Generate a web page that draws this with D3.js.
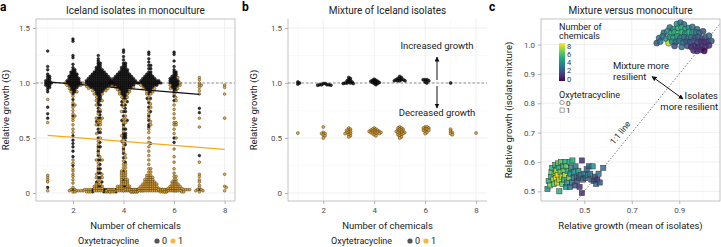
<!DOCTYPE html>
<html>
<head>
<meta charset="utf-8">
<script src="https://cdn.jsdelivr.net/npm/d3@7"></script>
<style>
body { margin: 0; background: #fff; }
text { font-family: Roboto, "Liberation Sans", sans-serif; }
</style>
</head>
<body>
<script>
// ---- data ----
// panel a: [relative growth, number of isolates at that value], keyed by number of chemicals
const monoOxy0 = {
  1: [[1.29,1],[1.15,1],[1.12,1],[1.08,1],[1.06,2],[1.04,2],[1.02,3],[1.0,4],[0.98,3],[0.96,2],[0.94,1],[0.92,1],[0.78,1],[0.72,1],[0.68,1],[0.05,1]],
  2: [[1.40,1],[1.38,1],[1.25,1],[1.23,1],[1.17,1],[1.14,1],[1.12,2],[1.1,3],[1.08,4],[1.06,5],[1.04,6],[1.02,7],[1.0,8],[0.98,6],[0.96,4],[0.94,3],[0.92,2],[0.9,1],[0.85,1],[0.8,1],[0.7,1],[0.52,1],[0.48,1],[0.45,1],[0.42,1],[0.38,1],[0.33,1],[0.25,1],[0.03,1]],
  3: [[1.25,1],[1.22,1],[1.2,1],[1.18,2],[1.16,2],[1.14,3],[1.12,4],[1.1,6],[1.08,8],[1.06,10],[1.04,12],[1.02,13],[1.0,14],[0.98,12],[0.96,9],[0.94,6],[0.92,4],[0.9,3],[0.88,2],[0.86,2],[0.84,2],[0.82,1],[0.8,2],[0.77,1],[0.74,2],[0.71,1],[0.68,2],[0.65,1],[0.62,1],[0.58,1],[0.55,2],[0.5,1],[0.46,1],[0.42,2],[0.38,1],[0.34,1],[0.3,2],[0.26,1],[0.22,2],[0.18,2],[0.14,2],[0.1,2],[0.06,2],[0.03,3],[0.01,2]],
  4: [[1.3,1],[1.28,1],[1.24,1],[1.21,1],[1.18,2],[1.16,2],[1.14,3],[1.12,4],[1.1,5],[1.08,7],[1.06,9],[1.04,11],[1.02,13],[1.0,14],[0.98,11],[0.96,8],[0.94,5],[0.92,4],[0.9,3],[0.88,2],[0.86,2],[0.83,2],[0.8,2],[0.77,1],[0.74,2],[0.7,1],[0.66,2],[0.62,1],[0.58,2],[0.54,2],[0.52,2],[0.5,2],[0.47,2],[0.44,1],[0.4,1],[0.36,1],[0.32,1],[0.28,1],[0.2,1],[0.12,1],[0.06,2],[0.03,2],[0.01,2]],
  5: [[1.28,1],[1.26,1],[1.22,1],[1.19,1],[1.16,2],[1.13,2],[1.1,2],[1.08,3],[1.06,5],[1.04,7],[1.02,10],[1.0,12],[0.98,8],[0.96,5],[0.94,3],[0.92,2],[0.9,1],[0.86,2],[0.82,1],[0.78,1],[0.74,1],[0.7,1],[0.66,1],[0.62,1],[0.6,1],[0.45,1],[0.03,2]],
  6: [[1.28,1],[1.26,1],[1.2,1],[1.15,1],[1.12,1],[1.1,2],[1.08,2],[1.06,3],[1.04,4],[1.02,5],[1.0,5],[0.98,4],[0.96,3],[0.94,2],[0.92,1],[0.88,1],[0.84,1],[0.5,1],[0.46,1],[0.03,1]],
  7: [[0.77,1],[0.73,1],[0.34,1],[0.03,1]]
}
const monoOxy1 = {
  1: [[0.85,1],[0.64,1],[0.16,1],[0.14,1],[0.12,1],[0.1,1],[0.02,1]],
  2: [[1.0,2],[0.98,2],[0.95,1],[0.92,2],[0.88,1],[0.82,1],[0.8,1],[0.78,1],[0.75,1],[0.72,1],[0.7,1],[0.68,1],[0.66,1],[0.62,1],[0.58,1],[0.55,1],[0.3,1],[0.27,1],[0.22,1],[0.2,1],[0.17,1],[0.15,1],[0.12,1],[0.09,1],[0.05,1],[0.03,2],[0.02,3],[0.01,2]],
  3: [[0.97,2],[0.95,2],[0.93,2],[0.9,2],[0.87,1],[0.84,2],[0.8,1],[0.76,1],[0.72,1],[0.68,2],[0.66,2],[0.64,2],[0.62,2],[0.58,1],[0.54,1],[0.5,1],[0.47,1],[0.44,1],[0.4,1],[0.36,1],[0.33,1],[0.3,2],[0.27,1],[0.24,1],[0.2,1],[0.17,2],[0.14,2],[0.11,2],[0.08,3],[0.06,3],[0.04,5],[0.03,7],[0.02,9],[0.01,6]],
  4: [[0.96,2],[0.94,2],[0.92,2],[0.9,2],[0.87,2],[0.84,2],[0.81,1],[0.78,1],[0.74,1],[0.7,1],[0.67,2],[0.64,2],[0.6,1],[0.56,1],[0.52,1],[0.48,1],[0.45,1],[0.42,1],[0.38,1],[0.35,1],[0.32,1],[0.29,1],[0.26,2],[0.23,2],[0.2,2],[0.18,3],[0.16,3],[0.14,3],[0.12,3],[0.1,4],[0.08,4],[0.06,5],[0.04,7],[0.03,8],[0.02,10],[0.01,6]],
  5: [[0.98,1],[0.95,2],[0.92,2],[0.9,2],[0.87,1],[0.84,1],[0.81,1],[0.78,1],[0.75,1],[0.72,1],[0.68,1],[0.65,1],[0.62,1],[0.58,1],[0.55,1],[0.5,1],[0.46,1],[0.42,1],[0.38,1],[0.34,1],[0.3,1],[0.26,1],[0.22,2],[0.19,2],[0.16,3],[0.14,4],[0.12,5],[0.1,6],[0.08,8],[0.06,9],[0.04,11],[0.03,12],[0.02,14],[0.01,8]],
  6: [[1.05,1],[1.0,1],[0.98,2],[0.95,2],[0.92,1],[0.9,1],[0.87,1],[0.84,1],[0.8,1],[0.76,1],[0.72,1],[0.68,1],[0.64,2],[0.62,2],[0.58,1],[0.54,1],[0.5,1],[0.4,1],[0.33,1],[0.28,1],[0.22,1],[0.18,1],[0.15,2],[0.12,2],[0.1,3],[0.08,4],[0.06,6],[0.04,8],[0.03,8],[0.02,7],[0.01,4]],
  7: [[1.05,1],[1.03,1],[1.0,1],[0.98,2],[0.96,1],[0.93,1],[0.9,1],[0.68,1],[0.6,1],[0.28,1],[0.17,1],[0.15,1],[0.12,1],[0.1,1],[0.07,1],[0.05,1],[0.03,2],[0.02,2],[0.01,1]],
  8: [[0.98,1],[0.96,1],[0.9,1],[0.68,1],[0.17,1],[0.06,1],[0.05,1],[0.02,1]]
}
// fitted lines in panel a: [chemicals, growth] end points
const fitOxy0 = [[1, 1.01], [7, 0.897]]
const fitOxy1 = [[1, 0.524], [8, 0.397]]

// panel b: mixtures
const mixOxy0 = {
  1: [[1.01,1],[1.0,1],[0.99,1]],
  2: [[0.995,2],[0.985,4],[0.98,2]],
  3: [[1.05,1],[1.04,1],[1.03,1],[1.02,2],[1.01,2],[1.0,3],[0.995,2]],
  4: [[1.035,1],[1.025,2],[1.015,3],[1.005,3],[0.995,2],[0.985,1]],
  5: [[1.06,1],[1.05,1],[1.04,2],[1.03,3],[1.02,4]],
  6: [[1.03,3],[1.02,1],[1.01,1],[1.0,1]],
  7: [[1.0,1]]
}
const mixOxy1 = {
  1: [[0.545,1]],
  2: [[0.6,1],[0.55,1],[0.54,2],[0.53,1],[0.52,1],[0.5,1]],
  3: [[0.59,1],[0.58,1],[0.57,2],[0.56,1],[0.55,2],[0.54,2],[0.53,1],[0.52,1],[0.51,1]],
  4: [[0.59,1],[0.58,2],[0.57,3],[0.56,4],[0.55,4],[0.54,3],[0.53,1],[0.52,1]],
  5: [[0.6,1],[0.59,2],[0.58,2],[0.57,2],[0.56,3],[0.55,3],[0.54,2],[0.53,2],[0.52,1],[0.51,1],[0.5,1]],
  6: [[0.6,2],[0.59,2],[0.58,2],[0.57,2],[0.56,1],[0.55,1],[0.54,1]],
  7: [[0.58,1],[0.56,1],[0.55,1],[0.54,1],[0.53,1]],
  8: [[0.545,1]]
}

// panel c: [mean of isolates, isolate mixture, number of chemicals]
const vsOxy0 = [
  [0.89,1.07,4],[0.905,1.075,3],[0.92,1.068,3],
  [0.86,1.058,3],[0.875,1.052,4],[0.895,1.055,5],[0.91,1.058,5],[0.925,1.052,5],[0.94,1.056,4],[0.955,1.06,3],[0.975,1.052,3],
  [0.835,1.04,3],[0.85,1.045,4],[0.865,1.038,5],[0.88,1.042,5],[0.895,1.038,6],[0.91,1.042,5],[0.925,1.038,4],[0.94,1.042,5],[0.955,1.038,4],[0.97,1.042,3],[0.985,1.04,3],[1.0,1.045,2],
  [0.815,1.022,3],[0.83,1.028,3],[0.845,1.02,4],[0.86,1.025,4],[0.875,1.022,5],[0.89,1.028,4],[0.905,1.022,4],[0.92,1.026,3],[0.935,1.02,3],[0.95,1.025,3],[0.965,1.022,2],[0.98,1.026,2],[0.995,1.02,2],[1.01,1.025,2],[1.025,1.03,3],
  [0.805,1.005,2],[0.82,1.01,3],[0.855,1.005,7],[0.87,1.01,4],[0.885,1.008,3],[0.9,1.012,3],[0.915,1.005,3],[0.93,1.01,2],[0.945,1.008,2],[0.96,1.012,2],[0.975,1.005,2],[0.99,1.01,1],[1.005,1.008,1],[1.02,1.01,1],[1.035,1.012,2],
  [0.88,0.995,2],[0.91,0.992,3],[0.935,0.995,2],[0.95,0.992,1],[0.965,0.995,1],[0.98,0.99,1],[0.995,0.995,1],[1.01,0.992,1],[1.025,0.997,1],
  [0.96,0.98,1],[0.975,0.978,1],[0.99,0.982,1],[1.005,0.978,0]
]
const vsOxy1 = [
  [0.345,0.508,4],[0.35,0.535,5],[0.355,0.52,6],[0.36,0.55,5],[0.362,0.565,6],[0.365,0.58,5],[0.37,0.54,7],[0.372,0.525,6],[0.375,0.56,6],[0.378,0.59,5],
  [0.38,0.545,8],[0.382,0.57,7],[0.385,0.53,7],[0.388,0.555,8],[0.39,0.595,6],[0.392,0.58,5],[0.395,0.5,5],[0.395,0.54,7],[0.4,0.565,6],[0.402,0.6,6],
  [0.405,0.55,7],[0.408,0.525,6],[0.41,0.585,5],[0.413,0.57,6],[0.415,0.54,5],[0.418,0.6,5],[0.42,0.555,7],[0.423,0.515,4],[0.425,0.585,6],[0.428,0.53,4],
  [0.43,0.57,5],[0.435,0.545,6],[0.438,0.6,5],[0.44,0.515,3],[0.442,0.56,4],[0.445,0.58,4],[0.448,0.53,3],[0.45,0.605,5],[0.455,0.545,3],[0.458,0.565,4],
  [0.46,0.52,2],[0.463,0.585,3],[0.468,0.55,3],[0.47,0.535,2],[0.475,0.57,4],[0.478,0.545,2],[0.48,0.515,1],[0.485,0.555,3],[0.49,0.494,1],[0.49,0.605,1],
  [0.495,0.54,3],[0.5,0.56,3],[0.505,0.545,2],[0.51,0.575,3],[0.515,0.555,4],[0.52,0.585,2],[0.525,0.56,3],[0.53,0.54,2],[0.535,0.585,4],[0.54,0.535,2],
  [0.545,0.55,2],[0.55,0.525,3],[0.555,0.54,1],[0.56,0.56,3],[0.565,0.53,2],[0.58,0.58,3]
]

const chemTicks = [2, 4, 6, 8]
const growthTicks = [0, 0.5, 1, 1.5]
const cXTicks = [0.5, 0.7, 0.9]
const cYTicks = [0.5, 0.6, 0.7, 0.8, 0.9, 1.0]
const chemLegend = [0, 2, 4, 6, 8]

// ---- setup ----
const W = 721, H = 247
const svg = d3.select('body').append('svg').attr('width', W).attr('height', H)

const ORANGE = '#dfa236', DARK = '#111'
const tickCol = '#4d4d4d', gridMaj = '#ebebeb', gridMin = '#f5f5f5', frameCol = '#b3b3b3'

const panels = {
  a: {x: d3.scaleLinear().domain([0.537, 8.41]).range([36, 235]), y: d3.scaleLinear().domain([-0.073, 1.582]).range([201, 19])},
  b: {x: d3.scaleLinear().domain([0.613, 8.43]).range([288, 487]), y: d3.scaleLinear().domain([-0.073, 1.582]).range([201, 19])},
  c: {x: d3.scaleLinear().domain([0.3177, 1.0714]).range([541, 720]), y: d3.scaleLinear().domain([0.467, 1.087]).range([201, 19])}
}

function grid(p, xt, yt, xminor, yminor) {
  const g = svg.append('g')
  const [x0, x1] = p.x.range(), [y0, y1] = p.y.range()
  g.selectAll('.vmin').data(xminor).join('line')
    .attr('x1', d => p.x(d)).attr('x2', d => p.x(d)).attr('y1', y0).attr('y2', y1)
    .attr('stroke', gridMin).attr('stroke-width', 0.5)
  g.selectAll('.hmin').data(yminor).join('line')
    .attr('y1', d => p.y(d)).attr('y2', d => p.y(d)).attr('x1', x0).attr('x2', x1)
    .attr('stroke', gridMin).attr('stroke-width', 0.5)
  g.selectAll('.vmaj').data(xt).join('line')
    .attr('x1', d => p.x(d)).attr('x2', d => p.x(d)).attr('y1', y0).attr('y2', y1)
    .attr('stroke', gridMaj).attr('stroke-width', 0.8)
  g.selectAll('.hmaj').data(yt).join('line')
    .attr('y1', d => p.y(d)).attr('y2', d => p.y(d)).attr('x1', x0).attr('x2', x1)
    .attr('stroke', gridMaj).attr('stroke-width', 0.8)
}

function axes(p, xt, yt, xfmt, yfmt, box) {
  const [x0, x1] = p.x.range(), [y0, y1] = p.y.range()
  const gx = svg.append('g').attr('transform', `translate(0,${y0})`)
    .call(d3.axisBottom(p.x).tickValues(xt).tickFormat(xfmt).tickSize(3).tickPadding(3))
  const gy = svg.append('g').attr('transform', `translate(${x0},0)`)
    .call(d3.axisLeft(p.y).tickValues(yt).tickFormat(yfmt).tickSize(3).tickPadding(3))
  for (const g of [gx, gy]) {
    g.select('.domain').remove()
    g.selectAll('line').attr('stroke', frameCol)
    g.selectAll('text').attr('fill', tickCol).style('font-size', '8px')
  }
  if (box) {
    svg.append('rect').attr('x', x0).attr('y', y1).attr('width', x1 - x0).attr('height', y0 - y1)
      .attr('fill', 'none').attr('stroke', frameCol).attr('stroke-width', 0.8)
  } else {
    svg.append('path').attr('d', `M${x0},${y1}V${y0}H${x1}`).attr('fill', 'none')
      .attr('stroke', frameCol).attr('stroke-width', 0.8)
  }
}

// simple beeswarm: place each point as close to the centre as it can go
function swarm(pts, D) {
  pts.sort((a, b) => a.py - b.py)
  const placed = []
  for (const p of pts) {
    const near = placed.filter(q => Math.abs(q.py - p.py) < D)
    const cands = [0]
    for (const q of near) {
      const w = Math.sqrt(D * D - (q.py - p.py) ** 2)
      cands.push(q.dx + w, q.dx - w)
    }
    cands.sort((a, b) => Math.abs(a) - Math.abs(b))
    for (const c of cands) {
      if (near.every(q => (q.dx - c) ** 2 + (q.py - p.py) ** 2 >= D * D - 1e-6)) { p.dx = c; break }
    }
    placed.push(p)
  }
  return pts
}

function expand(groups, oxy, y) {
  const out = []
  for (const k of Object.keys(groups)) {
    for (const [v, n] of groups[k]) {
      for (let i = 0; i < n; i++) out.push({chem: +k, v, oxy, py: y(v)})
    }
  }
  return out
}

function swarmPanel(p, g0, g1, r, D) {
  const all = expand(g0, 0, p.y).concat(expand(g1, 1, p.y))
  const pts = []
  for (const k of d3.range(1, 9)) {
    pts.push(...swarm(all.filter(d => d.chem === k), D))
  }
  svg.append('g').selectAll('circle').data(pts.sort((a, b) => a.oxy - b.oxy)).join('circle')
    .attr('cx', d => p.x(d.chem) + d.dx).attr('cy', d => d.py).attr('r', r)
    .attr('fill', d => d.oxy ? ORANGE : DARK)
    .attr('fill-opacity', d => d.oxy ? 0.9 : 0.85)
    .attr('stroke', d => d.oxy ? '#3d2c05' : '#000').attr('stroke-width', 0.45)
}

function legendOxy(cx, y) {
  const g = svg.append('g').attr('transform', `translate(${cx},${y})`)
  g.append('text').attr('x', -52).attr('y', 0).attr('font-size', 9).attr('fill', '#222').text('Oxytetracycline')
  g.append('circle').attr('cx', 27).attr('cy', -3).attr('r', 2.6).attr('fill', '#555')
  g.append('text').attr('x', 32).attr('y', 0).attr('font-size', 9).attr('fill', '#222').text('0')
  g.append('circle').attr('cx', 43).attr('cy', -3).attr('r', 2.6).attr('fill', '#f6b74a')
  g.append('text').attr('x', 48).attr('y', 0).attr('font-size', 9).attr('fill', '#222').text('1')
}

function titles(p, title, letter, lx, xlab, ylab, ylx) {
  const [x0, x1] = p.x.range()
  svg.append('text').attr('x', (x0 + x1) / 2).attr('y', 14).attr('text-anchor', 'middle')
    .attr('font-size', 10).attr('fill', '#222').text(title)
  svg.append('text').attr('x', lx).attr('y', 11).attr('font-size', 12).attr('font-weight', 'bold')
    .attr('fill', '#000').text(letter)
  svg.append('text').attr('x', (x0 + x1) / 2).attr('y', 229).attr('text-anchor', 'middle')
    .attr('font-size', 9.5).attr('fill', '#222').text(xlab)
  svg.append('text').attr('transform', `translate(${ylx},110) rotate(-90)`).attr('text-anchor', 'middle')
    .attr('font-size', 9.5).attr('fill', '#222').text(ylab)
}

const fmtG = d => d === 0 ? '0' : d3.format('.1f')(d)

// ---- panel a ----
const pa = panels.a
grid(pa, chemTicks, growthTicks, [1, 3, 5, 7], [0.25, 0.75, 1.25])
svg.append('line').attr('x1', 36).attr('x2', 235).attr('y1', pa.y(1)).attr('y2', pa.y(1))
  .attr('stroke', '#777').attr('stroke-dasharray', '2.5,2').attr('stroke-width', 0.8)
swarmPanel(pa, monoOxy0, monoOxy1, 1.35, 2.0)
const line = p => d3.line().x(d => p.x(d[0])).y(d => p.y(d[1]))
svg.append('path').attr('d', line(pa)(fitOxy1)).attr('stroke', '#f4aa1f').attr('stroke-width', 1.2).attr('fill', 'none')
svg.append('path').attr('d', line(pa)(fitOxy0)).attr('stroke', '#111').attr('stroke-width', 1.2).attr('fill', 'none')
axes(pa, chemTicks, growthTicks, d3.format('d'), fmtG, true)
titles(pa, 'Iceland isolates in monoculture', 'a', 0, 'Number of chemicals', 'Relative growth (G)', 9)
legendOxy(130, 244)

// ---- panel b ----
const pb = panels.b
grid(pb, chemTicks, growthTicks, [1, 3, 5, 7], [0.25, 0.75, 1.25])
svg.append('line').attr('x1', 288).attr('x2', 487).attr('y1', pb.y(1)).attr('y2', pb.y(1))
  .attr('stroke', '#777').attr('stroke-dasharray', '2.5,2').attr('stroke-width', 0.8)
swarmPanel(pb, mixOxy0, mixOxy1, 1.5, 2.0)
axes(pb, chemTicks, growthTicks, d3.format('d'), fmtG, false)
titles(pb, 'Mixture of Iceland isolates', 'b', 242, 'Number of chemicals', 'Relative growth (G)', 257)
legendOxy(383, 244)

const defs = svg.append('defs')
defs.append('marker').attr('id', 'ah').attr('viewBox', '0 0 10 10').attr('refX', 9).attr('refY', 5)
  .attr('markerWidth', 5).attr('markerHeight', 5).attr('orient', 'auto-start-reverse')
  .append('path').attr('d', 'M0,0L10,5L0,10z').attr('fill', '#111')

svg.append('text').attr('x', 437).attr('y', 49).attr('text-anchor', 'middle').attr('font-size', 9.5).attr('fill', '#222').text('Increased growth')
svg.append('text').attr('x', 437).attr('y', 116).attr('text-anchor', 'middle').attr('font-size', 9.5).attr('fill', '#222').text('Decreased growth')
svg.append('line').attr('x1', 437).attr('x2', 437).attr('y1', 80).attr('y2', 57).attr('stroke', '#111').attr('stroke-width', 1).attr('marker-end', 'url(#ah)')
svg.append('line').attr('x1', 437).attr('x2', 437).attr('y1', 86).attr('y2', 108).attr('stroke', '#111').attr('stroke-width', 1).attr('marker-end', 'url(#ah)')

// ---- panel c ----
const pc = panels.c
grid(pc, cXTicks, cYTicks, [0.4, 0.6, 0.8, 1.0], [0.55, 0.65, 0.75, 0.85, 0.95, 1.05])
defs.append('clipPath').attr('id', 'clipc').append('rect').attr('x', 541).attr('y', 19).attr('width', 179).attr('height', 182)
svg.append('line').attr('clip-path', 'url(#clipc)')
  .attr('x1', pc.x(0.4)).attr('y1', pc.y(0.4)).attr('x2', pc.x(1.2)).attr('y2', pc.y(1.2))
  .attr('stroke', '#555').attr('stroke-width', 0.8).attr('stroke-dasharray', '1.5,1.8')

const vir = d3.scaleSequential(d3.interpolateViridis).domain([0, 8])
svg.append('g').selectAll('circle').data(vsOxy0).join('circle')
  .attr('cx', d => pc.x(d[0])).attr('cy', d => pc.y(d[1])).attr('r', 3)
  .attr('fill', d => vir(d[2])).attr('fill-opacity', 0.85).attr('stroke', '#333').attr('stroke-width', 0.5)
svg.append('g').selectAll('rect').data(vsOxy1).join('rect')
  .attr('x', d => pc.x(d[0]) - 2.6).attr('y', d => pc.y(d[1]) - 2.6).attr('width', 5.2).attr('height', 5.2)
  .attr('fill', d => vir(d[2])).attr('fill-opacity', 0.85).attr('stroke', '#333').attr('stroke-width', 0.5)
axes(pc, cXTicks, cYTicks, d3.format('.1f'), d3.format('.1f'), true)
titles(pc, 'Mixture versus monoculture', 'c', 489, 'Relative growth (mean of isolates)', 'Relative growth (isolate mixture)', 512)

// colour legend
const grad = defs.append('linearGradient').attr('id', 'vgrad').attr('x1', 0).attr('x2', 0).attr('y1', 1).attr('y2', 0)
d3.range(0, 8.01, 1).forEach(v => grad.append('stop').attr('offset', v / 8).attr('stop-color', vir(v)))
const legY = d3.scaleLinear().domain([0, 8]).range([79, 46])
svg.append('text').attr('x', 559).attr('y', 30).attr('font-size', 9).attr('fill', '#222').text('Number of')
svg.append('text').attr('x', 559).attr('y', 39).attr('font-size', 9).attr('fill', '#222').text('chemicals')
svg.append('rect').attr('x', 559).attr('y', 43).attr('width', 6).attr('height', 38).attr('fill', 'url(#vgrad)')
svg.append('g').selectAll('text').data(chemLegend).join('text')
  .attr('x', 567).attr('y', d => legY(d) + 2.5).attr('font-size', 7.5).attr('fill', '#333').text(d => d)
svg.append('text').attr('x', 559).attr('y', 98).attr('font-size', 9).attr('fill', '#222').text('Oxytetracycline')
svg.append('circle').attr('cx', 562).attr('cy', 102.5).attr('r', 2.2).attr('fill', 'none').attr('stroke', '#666').attr('stroke-width', 0.6)
svg.append('text').attr('x', 566).attr('y', 105.5).attr('font-size', 8).attr('fill', '#333').text('0')
svg.append('rect').attr('x', 560).attr('y', 108).attr('width', 4.2).attr('height', 4.2).attr('fill', 'none').attr('stroke', '#666').attr('stroke-width', 0.6)
svg.append('text').attr('x', 566).attr('y', 113).attr('font-size', 8).attr('fill', '#333').text('1')

svg.append('text').attr('x', 613).attr('y', 69).attr('font-size', 9.5).attr('fill', '#222').text('Mixture more')
svg.append('text').attr('x', 613).attr('y', 80).attr('font-size', 9.5).attr('fill', '#222').text('resilient')
svg.append('text').attr('x', 718).attr('y', 99).attr('text-anchor', 'end').attr('font-size', 9.5).attr('fill', '#222').text('Isolates')
svg.append('text').attr('x', 718).attr('y', 110).attr('text-anchor', 'end').attr('font-size', 9.5).attr('fill', '#222').text('more resilient')
svg.append('line').attr('x1', 668).attr('y1', 88).attr('x2', 652).attr('y2', 76.5)
  .attr('stroke', '#111').attr('stroke-width', 1).attr('marker-end', 'url(#ah)')
svg.append('line').attr('x1', 668).attr('y1', 88).attr('x2', 683).attr('y2', 99)
  .attr('stroke', '#111').attr('stroke-width', 1).attr('marker-end', 'url(#ah)')
const ang = Math.atan2(pc.y(1) - pc.y(0.5), pc.x(1) - pc.x(0.5)) * 180 / Math.PI
svg.append('text').attr('transform', `translate(${pc.x(0.69) - 7},${pc.y(0.69) - 1}) rotate(${ang})`)
  .attr('text-anchor', 'middle').attr('font-size', 8.5).attr('fill', '#222').text('1:1 line')
</script>
</body>
</html>
